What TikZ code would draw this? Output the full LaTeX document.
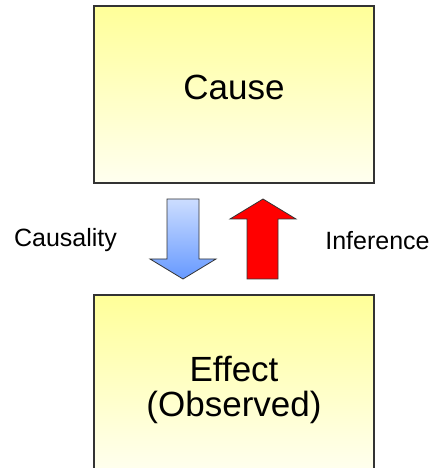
\documentclass[tikz,border=0pt]{standalone}
\usepackage{fontspec}
\setmainfont{Liberation Sans}
\begin{document}
\begin{tikzpicture}[x=1pt,y=1pt,
  box/.style={draw=black!80, line width=1.5pt, top color=yellow!40!white, bottom color=yellow!6!white, minimum width=280pt, minimum height=177pt, inner sep=0pt},
  bigtext/.style={font=\fontsize{35}{35}\selectfont, align=center, inner sep=0pt},
  lbl/.style={font=\fontsize{25}{28}\selectfont, inner sep=0pt},
  arr/.style={draw=black!80, line width=0.8pt, line join=miter}
]
\useasboundingbox (0,0) rectangle (438,468);
\clip (0,0) rectangle (438,468);
\node[box] (cause) at (234,373.5) {};
\node[bigtext] (causetext) at (234,380.5) {Cause};
\node[box] (effect) at (234,84.5) {};
\node[bigtext] (effecttext) at (234,78) {Effect\\(Observed)};
% down arrow (causality)
\path[arr, top color={rgb,255:red,204;green,221;blue,255}, bottom color={rgb,255:red,102;green,153;blue,255}]
  (167,269) -- (199,269) -- (199,209) -- (216,209) -- (183,189) -- (150,209) -- (167,209) -- cycle;
% up arrow (inference)
\path[arr, fill=red]
  (247,189) -- (278,189) -- (278,249) -- (296,249) -- (263,269) -- (230,249) -- (247,249) -- cycle;
\node[lbl] (causality) at (65.5,227.5) {Causality};
\node[lbl] (inference) at (377.5,227.5) {Inference};
\end{tikzpicture}
\end{document}
